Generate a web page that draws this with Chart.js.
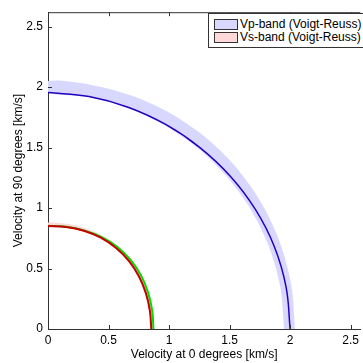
<!DOCTYPE html>
<html>
<head>
<meta charset="utf-8">
<script src="https://cdn.jsdelivr.net/npm/chart.js@4.4.1/dist/chart.umd.min.js"></script>
<style>
html, body { margin: 0; padding: 0; background: #fff; overflow: hidden; }
#wrap { position: relative; width: 363px; height: 363px; }
#legend {
    position: absolute; left: 208px; top: 13px; width: 170px; height: 33px;
    border: 1px solid #333; background: #fff;
    font: 12px "Liberation Sans", Arial, sans-serif; color: #000;
}
#legend .row { position: absolute; left: 5px; height: 12px; line-height: 12px; white-space: nowrap; }
#legend .sw { display: inline-block; width: 22px; height: 9px; border: 1px solid #333; vertical-align: top; margin-top: 1px; margin-right: 2px; }
</style>
</head>
<body>
<div id="wrap">
    <canvas id="c" width="363" height="363"></canvas>
    <div id="legend">
        <div class="row" style="top:4px"><span class="sw" style="background:rgb(216,216,255)"></span>Vp-band (Voigt-Reuss)</div>
        <div class="row" style="top:17px"><span class="sw" style="background:rgb(255,216,216)"></span>Vs-band (Voigt-Reuss)</div>
    </div>
</div>
<script>
// propagation angle (deg from the 0-degree axis) and velocities [km/s]
var angles = [0, 10, 20, 30, 40, 50, 60, 70, 80, 90];
var vpLine  = [2.000, 1.997, 1.990, 1.978, 1.966, 1.956, 1.951, 1.950, 1.952, 1.955];
var vpUpper = [2.040, 2.042, 2.045, 2.048, 2.050, 2.050, 2.050, 2.050, 2.050, 2.050];
var vpLower = [1.950, 1.950, 1.948, 1.945, 1.942, 1.940, 1.940, 1.942, 1.948, 1.955];
var vsRed   = [0.853, 0.855, 0.861, 0.868, 0.874, 0.875, 0.872, 0.865, 0.857, 0.852];
var vsGreen = [0.871, 0.874, 0.880, 0.887, 0.890, 0.888, 0.880, 0.868, 0.858, 0.853];
var vsUpper = [0.868, 0.873, 0.882, 0.892, 0.897, 0.897, 0.893, 0.888, 0.883, 0.880];
var vsLower = [0.846, 0.848, 0.854, 0.861, 0.866, 0.867, 0.864, 0.857, 0.850, 0.846];
var tickValues = [0, 0.5, 1, 1.5, 2, 2.5];

function toXY(r) {
    return r.map(function (v, i) {
        var a = angles[i] * Math.PI / 180;
        return {x: v * Math.cos(a), y: v * Math.sin(a)};
    });
}
function band(upper, lower) {
    return toXY(upper).concat(toXY(lower).reverse());
}

var fontSpec = {family: '"Liberation Sans", Arial, sans-serif', size: 12};

// inward tick marks and top frame line, matlab style
var framePlugin = {
    id: 'frame',
    afterDraw: function (chart) {
        var ctx = chart.ctx, a = chart.chartArea;
        var xs = chart.scales.x, ys = chart.scales.y;
        ctx.save();
        ctx.strokeStyle = '#333';
        ctx.lineWidth = 1;
        ctx.beginPath();
        ctx.moveTo(a.left, a.top + 0.5);
        ctx.lineTo(a.right, a.top + 0.5);
        tickValues.forEach(function (v) {
            var px = Math.round(xs.getPixelForValue(v)) + 0.5;
            ctx.moveTo(px, a.bottom); ctx.lineTo(px, a.bottom - 4);
            ctx.moveTo(px, a.top); ctx.lineTo(px, a.top + 4);
            var py = Math.round(ys.getPixelForValue(v)) + 0.5;
            ctx.moveTo(a.left, py); ctx.lineTo(a.left + 4, py);
        });
        ctx.stroke();
        ctx.restore();
    }
};

function fmt(v) { return String(v); }

new Chart(document.getElementById('c'), {
    type: 'scatter',
    data: {
        datasets: [{
            label: 'Vp-band (Voigt-Reuss)',
            data: band(vpUpper, vpLower),
            showLine: true, fill: 'shape', tension: 0.3,
            backgroundColor: 'rgb(216,216,255)', borderWidth: 0, pointRadius: 0, order: 5
        }, {
            label: 'Vs-band (Voigt-Reuss)',
            data: band(vsUpper, vsLower),
            showLine: true, fill: 'shape', tension: 0.3,
            backgroundColor: 'rgb(255,216,216)', borderWidth: 0, pointRadius: 0, order: 4
        }, {
            label: 'Vp',
            data: toXY(vpLine),
            showLine: true, tension: 0.4,
            borderColor: 'rgb(34,0,190)', borderWidth: 1.5, pointRadius: 0, order: 3
        }, {
            label: 'Vs green',
            data: toXY(vsGreen),
            showLine: true, tension: 0.4,
            borderColor: 'rgb(0,220,0)', borderWidth: 2, pointRadius: 0, order: 2
        }, {
            label: 'Vs red',
            data: toXY(vsRed),
            showLine: true, tension: 0.4,
            borderColor: 'rgb(200,0,0)', borderWidth: 2, pointRadius: 0, order: 1
        }]
    },
    options: {
        responsive: false,
        animation: false,
        layout: {padding: {top: 9, right: 0, left: 0, bottom: 0}},
        plugins: {legend: {display: false}, tooltip: {enabled: false}},
        scales: {
            x: {
                type: 'linear', min: 0, max: 2.58,
                afterBuildTicks: function (s) { s.ticks = tickValues.map(function (v) { return {value: v}; }); },
                afterFit: function (s) { s.height = 34; },
                grid: {display: false, drawTicks: false},
                border: {display: true, color: '#333', width: 1},
                ticks: {color: '#000', font: fontSpec, padding: 4, maxRotation: 0, callback: fmt},
                title: {display: true, text: 'Velocity at 0 degrees [km/s]', color: '#000', font: fontSpec, padding: {top: 0, bottom: 1}}
            },
            y: {
                type: 'linear', min: 0, max: 2.62,
                afterBuildTicks: function (s) { s.ticks = tickValues.map(function (v) { return {value: v}; }); },
                afterFit: function (s) { s.width = 48; },
                grid: {display: false, drawTicks: false},
                border: {display: true, color: '#333', width: 1},
                ticks: {color: '#000', font: fontSpec, padding: 5, callback: fmt},
                title: {display: true, text: 'Velocity at 90 degrees [km/s]', color: '#000', font: fontSpec, padding: {top: 11, bottom: 4}}
            }
        }
    },
    plugins: [framePlugin]
});
</script>
</body>
</html>
